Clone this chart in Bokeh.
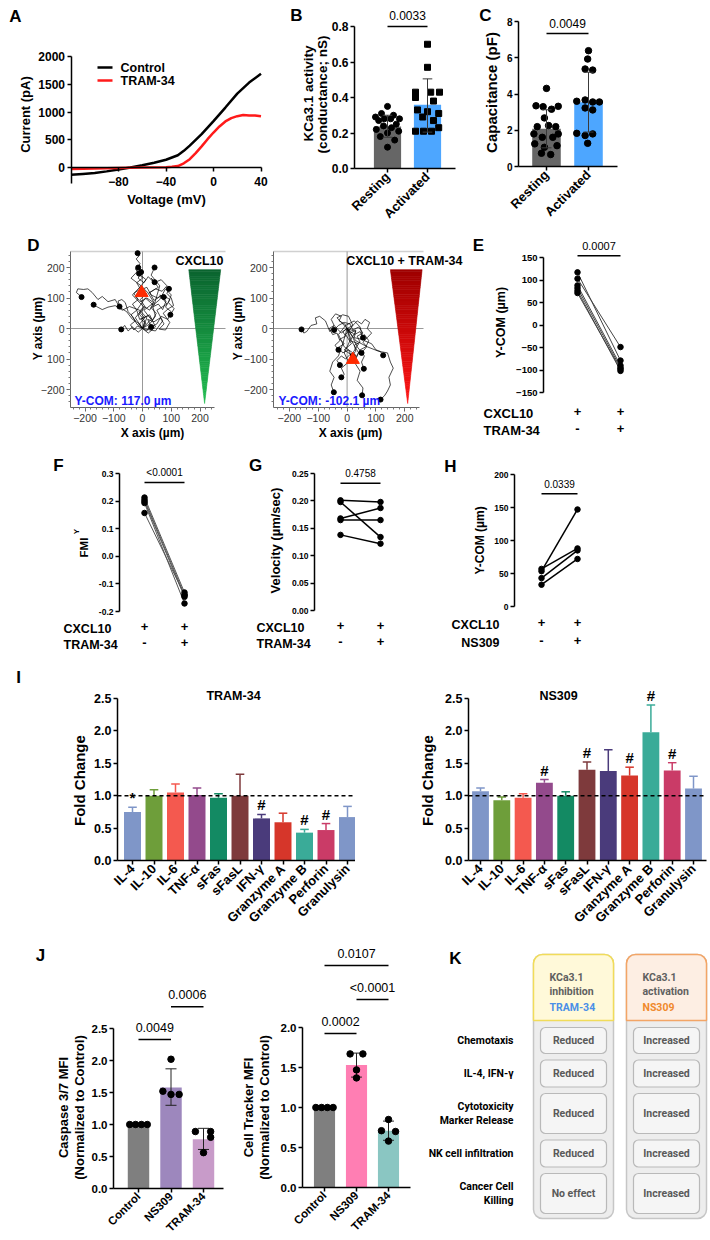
import math
from bokeh.plotting import figure
from bokeh.layouts import column, row
from bokeh.models import Range1d, FixedTicker, SingleIntervalTicker
from bokeh.embed import file_html
from bokeh.resources import INLINE
from bokeh.core.properties import value

FONT = "Liberation Sans"
KFONT = "Roboto"

# ---------------- A: whole-cell current-voltage relationship ----------------
iv_voltage_control = [-120, -110, -100, -90, -80, -70, -60, -50, -40, -30, -25, -20,
                      -10, 0, 10, 20, 30, 40]
iv_current_control = [-130, -115, -100, -70, -35, 0, 40, 85, 140, 220, 300, 395,
                      600, 835, 1080, 1330, 1530, 1690]
iv_voltage_tram = [-120, -100, -80, -60, -40, -35, -30, -25, -20, -15, -10, -5, 0, 5,
                   10, 15, 20, 25, 30, 35, 40]
iv_current_tram = [-25, -20, -8, 0, 5, 12, 25, 75, 150, 260, 380, 510, 630, 740,
                   830, 890, 925, 945, 935, 938, 922]

# ---------------- B: KCa3.1 conductance ----------------
bc_groups = ["Resting", "Activated"]
kca_mean = [0.237, 0.359]
kca_err_low = [0.176, 0.205]
kca_err_high = [0.300, 0.505]
kca_resting = [0.35, 0.31, 0.30, 0.29, 0.28, 0.28, 0.28, 0.27, 0.25, 0.24, 0.23,
               0.22, 0.21, 0.20, 0.18, 0.16, 0.12]
kca_activated = [0.70, 0.57, 0.43, 0.43, 0.43, 0.40, 0.38, 0.33, 0.32, 0.31, 0.29,
                 0.27, 0.23, 0.21, 0.21, 0.21]
kca_p = "0.0033"

# ---------------- C: membrane capacitance ----------------
cap_mean = [2.08, 3.55]
cap_err_low = [1.03, 1.90]
cap_err_high = [3.13, 5.20]
cap_resting = [4.31, 3.35, 3.32, 3.30, 3.16, 2.68, 2.26, 2.20, 2.20, 1.80, 1.80,
               1.61, 1.61, 1.25, 1.06, 1.15, 0.73, 0.66]
cap_activated = [6.39, 5.93, 5.38, 5.32, 3.67, 3.60, 3.56, 3.56, 3.23, 3.12, 1.83,
                 1.80, 1.71, 1.28]
cap_p = "0.0049"

# horizontal spread of the individual points inside each bar
kca_resting_dx = [0, -0.15, 0.15, -0.3, 0.3, -0.08, 0.08, -0.22, 0.22, -0.1, 0.1,
                  -0.28, 0.28, 0.0, -0.18, 0.18, 0.0]
kca_activated_dx = [0, 0, -0.3, 0.08, 0.3, -0.3, 0.15, -0.25, 0.0, 0.28, -0.12, 0.15,
                    0.28, -0.3, -0.1, 0.1]
cap_resting_dx = [0, -0.25, 0.28, -0.08, 0.12, -0.05, 0.05, -0.22, 0.22, -0.3, 0.28,
                  -0.1, 0.15, -0.28, -0.05, 0.25, -0.12, 0.1]
cap_activated_dx = [0, -0.02, -0.08, 0.1, -0.08, -0.28, 0.1, 0.26, -0.08, 0.1, -0.28,
                    0.1, -0.08, -0.02]

# ---------------- D: chemotaxis tracks (x, y in µm) ----------------
tracks_cxcl10 = [
    [(0, 0), (8, 25), (-12, 48), (10, 70), (-8, 95), (18, 118), (-5, 140), (12, 160),
     (-10, 178), (-25, 195), (-8, 212), (-22, 228), (-10, 240), (-17, 247)],
    [(0, 0), (-15, 18), (-35, 30), (-55, 55), (-80, 70), (-95, 95), (-120, 88),
     (-140, 105), (-155, 95), (-175, 118), (-190, 130), (-205, 128), (-225, 130),
     (-230, 118), (-220, 110), (-212, 103)],
    [(0, 0), (15, 35), (-10, 60), (-45, 72), (-70, 60), (-95, 75), (-120, 70),
     (-140, 62), (-160, 72), (-170, 78)],
    [(0, 0), (-20, 15), (-35, 40), (-50, 55), (-60, 85), (-72, 95), (-85, 90),
     (-80, 72)],
    [(0, 0), (25, 15), (45, 40), (35, 75), (60, 95), (80, 130), (100, 110), (90, 85),
     (110, 65), (97, 45)],
    [(0, 0), (-15, -12), (-35, 5), (-50, -8), (-62, 10), (-74, -3)],
    [(0, 0), (30, 30), (5, 60), (40, 85), (20, 115), (55, 135), (30, 165), (42, 152)],
    [(0, 0), (45, -8), (70, 25), (50, 60), (85, 80), (60, 110), (74, 103)],
    [(0, 0), (-25, 35), (5, 70), (-35, 110), (-5, 140), (-40, 165), (-20, 185),
     (-15, 200)],
    [(0, 0), (20, -15), (45, 5), (25, 45), (-10, 30), (-20, 60), (10, 100), (40, 75),
     (60, 140), (30, 175), (42, 200)],
    [(0, 0), (12, 18), (-6, 30), (20, 42), (35, 28), (48, 50), (30, 68), (55, 80),
     (70, 62), (82, 90), (60, 105), (40, 92), (25, 118), (45, 130), (68, 122),
     (85, 140), (65, 160), (40, 150), (20, 170), (5, 150), (-15, 165), (-5, 185)],
    [(0, 0), (-10, 15), (8, 35), (-12, 55), (5, 72), (25, 60), (38, 85), (15, 100),
     (-8, 88), (-25, 105), (-10, 125), (15, 135), (30, 110), (52, 100), (70, 110),
     (95, 95), (80, 70), (100, 55), (88, 30), (65, 40), (50, 15), (30, 5)],
    [(0, 0), (15, -8), (28, 10), (18, 30), (40, 22), (62, 35), (75, 15), (58, -2),
     (80, -5), (95, 20), (72, 50), (90, 65), (108, 75), (100, 100), (85, 115),
     (92, 130)],
    [(0, 0), (-18, 8), (-30, -5), (-42, 12), (-25, 25), (-40, 45), (-20, 60), (-35, 80),
     (-15, 95), (-30, 115), (-8, 130), (-20, 150), (0, 165), (-12, 180)],
]
tracks_tram34 = [
    [(0, 0), (-20, -15), (-45, 10), (-60, -10), (-75, 25), (-95, 40), (-110, 35),
     (-105, 15), (-125, 10), (-140, -10), (-150, -15), (-158, -3)],
    [(0, 0), (25, -20), (45, -10), (60, -40), (85, -50), (100, -70), (115, -75),
     (125, -88)],
    [(0, 0), (30, -40), (70, -60), (110, -75), (140, -80), (150, -110), (160, -130),
     (145, -160), (150, -185), (140, -205), (130, -220), (116, -233)],
    [(0, 0), (15, -40), (40, -80), (25, -110), (45, -140), (35, -170), (55, -195),
     (52, -219)],
    [(0, 0), (-15, -50), (-30, -90), (-50, -110), (-60, -140), (-45, -160),
     (-55, -185), (-46, -209)],
    [(0, 0), (10, -40), (-10, -80), (5, -110), (-20, -130), (-10, -150), (-20, -160)],
    [(0, 0), (20, -30), (35, -60), (60, -90), (50, -110), (58, -132)],
    [(0, 0), (-20, 20), (-35, 35), (-15, 45), (5, 40), (20, 10), (-5, -20), (15, -50),
     (-10, -70), (20, -90)],
    [(0, 0), (30, -10), (10, -40), (40, -50), (20, -80), (-10, -60), (-30, -20),
     (-5, 10), (25, 25), (45, 5), (55, -30)],
    [(0, 0), (-15, -10), (-5, -25), (-25, -35), (-10, -50), (-30, -62), (-15, -80),
     (5, -70), (15, -90), (30, -75), (25, -55), (45, -45), (35, -25), (55, -15),
     (40, 5), (20, -5), (10, 15), (-10, 20), (-30, 10), (-45, -5)],
    [(0, 0), (12, -15), (30, -5), (25, -30), (48, -35), (60, -20), (75, -40), (65, -60),
     (45, -70), (30, -95), (10, -85), (-5, -100), (-20, -90), (-35, -105), (-25, -120)],
    [(0, 0), (-8, 15), (-28, 25), (-20, 40), (-40, 48), (-55, 30), (-45, 10), (-62, 0),
     (-50, -20), (-35, -15), (-25, -40), (-42, -55), (-30, -70)],
    [(0, 0), (20, 10), (35, 25), (50, 15), (62, 30), (78, 20), (70, 0), (85, -15),
     (70, -30), (55, -45), (68, -60), (50, -80)],
]
ycom_cxcl10 = 117.0
xcom_cxcl10 = -3.0
ycom_tram34 = -102.1
xcom_tram34 = 20.0

# ---------------- E-H: paired experiments ----------------
e_before = [117, 103, 88, 82, 76, 71]
e_after = [-79, -49, -90, -95, -102, -98]
e_p = "0.0007"
f_before = [0.213, 0.205, 0.199, 0.193, 0.157]
f_after = [-0.131, -0.140, -0.147, -0.171, -0.140]
f_p = "<0.0001"
g_before = [0.201, 0.198, 0.168, 0.165, 0.138]
g_after = [0.198, 0.134, 0.187, 0.165, 0.122]
g_p = "0.4758"
h_before = [53.5, 57, 43, 33]
h_after = [147, 88, 85, 72]
h_p = "0.0339"

# ---------------- I: cytokine release ----------------
cytokines = ["IL-4", "IL-10", "IL-6", "TNF-α", "sFas", "sFasL", "IFN-γ",
             "Granzyme A", "Granzyme B", "Perforin", "Granulysin"]
cytokine_colors = ["#7f96c8", "#6e9e3a", "#f4594f", "#934a8c", "#138a63", "#7e3a3c",
                   "#4a3b7b", "#d6362a", "#3aab98", "#ca3b67", "#7f96c8"]
tram_fold = [0.75, 1.00, 1.05, 1.01, 0.97, 1.00, 0.65, 0.59, 0.43, 0.47, 0.67]
tram_fold_top = [0.82, 1.09, 1.18, 1.12, 1.03, 1.33, 0.71, 0.73, 0.48, 0.57, 0.835]
tram_marks = ["*", "", "", "", "", "", "#", "", "#", "#", ""]
ns_fold = [1.07, 0.93, 0.97, 1.20, 1.00, 1.40, 1.38, 1.31, 1.98, 1.39, 1.11]
ns_fold_top = [1.12, 0.98, 1.03, 1.25, 1.06, 1.52, 1.71, 1.44, 2.40, 1.51, 1.30]
ns_marks = ["", "", "", "#", "", "#", "", "#", "#", "#", ""]

# ---------------- J: killing assays ----------------
j_groups = ["Control", "NS309", "TRAM-34"]
casp_mean = [1.0, 1.58, 0.77]
casp_err_low = [1.0, 1.30, 0.61]
casp_err_high = [1.0, 1.87, 0.94]
casp_points = [[1.0, 1.0, 1.0, 1.0], [2.02, 1.52, 1.47, 1.47], [0.89, 0.89, 0.80, 0.56]]
casp_dx = [[-0.27, -0.09, 0.09, 0.27], [0.0, -0.25, 0.0, 0.25], [-0.25, 0.22, 0.22, 0.0]]
casp_colors = ["#7f7f7f", "#9d87bd", "#c89bc9"]
track_mean = [1.0, 1.53, 0.71]
track_err_low = [1.0, 1.38, 0.59]
track_err_high = [1.0, 1.68, 0.83]
track_points = [[1.0, 1.0, 1.0, 1.0], [1.67, 1.67, 1.47, 1.37], [0.85, 0.71, 0.70, 0.58]]
track_dx = [[-0.27, -0.09, 0.09, 0.27], [-0.2, 0.2, 0.0, 0.0], [0.0, -0.22, 0.22, 0.0]]
track_colors = ["#7f7f7f", "#ff7eb3", "#8ac6c2"]
casp_brackets = [(0, 1, 2.33, "0.0049"), (1, 2, 2.84, "0.0006")]
track_brackets = [(0, 1, 1.925, "0.0002"), (1, 2, 2.35, "<0.0001"), (0, 2, 2.775, "0.0107")]

# ---------------- K: summary table ----------------
k_rows = ["Chemotaxis", "IL-4, IFN-γ", "Cytotoxicity\nMarker Release",
          "NK cell infiltration", "Cancer Cell\nKilling"]
k_inhibition = ["Reduced", "Reduced", "Reduced", "Reduced", "No effect"]
k_activation = ["Increased", "Increased", "Increased", "Increased", "Increased"]
k_headers = [("KCa3.1", "inhibition", "TRAM-34"), ("KCa3.1", "activation", "NS309")]


# ============================================================================
def style_axis(ax, size, bold=True, color="black", width=1.5, tick_out=4):
    ax.axis_line_width = width
    ax.axis_line_color = color
    ax.major_tick_line_width = width
    ax.major_tick_line_color = color
    ax.major_tick_out = tick_out
    ax.major_tick_in = 0
    ax.minor_tick_line_color = None
    ax.major_label_text_font = FONT
    ax.major_label_text_font_size = size
    ax.major_label_text_font_style = "bold" if bold else "normal"
    ax.major_label_text_color = color
    ax.major_label_standoff = 2


class Panel:
    """A figure whose frame fills its box; data units are calibrated to page pixels,
    so axes are pinned with fixed_location and every text stays inside the frame."""

    def __init__(self, origin, size, xcal, ycal, xaxis=True, yaxis=True):
        x0, y0 = origin
        w, h = size
        self.px, self.dx, self.sx = xcal
        self.py, self.dy, self.sy = ycal
        self.p = figure(width=w, height=h,
                        x_range=Range1d(self.xd(x0), self.xd(x0 + w)),
                        y_range=Range1d(self.yd(y0 + h), self.yd(y0)),
                        x_axis_location="below" if xaxis else None,
                        y_axis_location="left" if yaxis else None,
                        output_backend="svg", toolbar_location=None,
                        min_border_left=0, min_border_right=0,
                        min_border_top=0, min_border_bottom=0)
        p = self.p
        try:
            p.frame_align = False
        except Exception:
            pass
        p.title.visible = False
        p.outline_line_color = None
        p.grid.visible = False
        p.background_fill_color = None
        p.border_fill_color = None

    def xd(self, X):
        return self.dx + (X - self.px) / self.sx

    def yd(self, Y):
        return self.dy + (self.py - Y) / self.sy

    def pin_axes(self, x_at=None, x_bounds=None, y_at=None, y_bounds=None):
        if x_at is not None:
            self.p.xaxis[0].fixed_location = x_at
            self.p.xaxis[0].bounds = x_bounds
        if y_at is not None:
            self.p.yaxis[0].fixed_location = y_at
            self.p.yaxis[0].bounds = y_bounds

    def t(self, X, Y, txt, size="12px", bold=True, color="black", align="center",
          baseline="middle", angle=0.0, font=FONT, line_height=1.2):
        self.p.text(x=[self.xd(X)], y=[self.yd(Y)], text=[txt], text_font=value(font),
                    text_font_size=size, text_font_style="bold" if bold else "normal",
                    text_color=color, text_align=align, text_baseline=baseline,
                    angle=angle, text_line_height=line_height)

    def bracket(self, x0, x1, y, label, gap_px=11, size="12px"):
        self.p.segment(x0=[x0], y0=[y], x1=[x1], y1=[y], line_color="black",
                       line_width=1.5)
        ylab = y + gap_px / abs(self.sy)
        self.p.text(x=[(x0 + x1) / 2], y=[ylab], text=[label], text_font=value(FONT),
                    text_font_size=size, text_color="black", text_align="center",
                    text_baseline="middle")


ROT = math.pi / 2

# ---------------- A ----------------
A = Panel((0, 0), (275, 232), (213, 0, 1.1875), (167, 0, 0.0555))
pa = A.p
style_axis(pa.xaxis[0], "12px")
style_axis(pa.yaxis[0], "12px")
A.pin_axes(x_at=0, x_bounds=(-120, 40), y_at=-120, y_bounds=(-288, 2000))
pa.xaxis[0].ticker = FixedTicker(ticks=[-80, -40, 0, 40])
pa.xaxis[0].major_label_standoff = 5
pa.yaxis[0].ticker = FixedTicker(ticks=[0, 500, 1000, 1500, 2000])
pa.line(iv_voltage_control, iv_current_control, line_color="black", line_width=2.5)
pa.line(iv_voltage_tram, iv_current_tram, line_color="#ff1a1a", line_width=2.5)
# legend samples
pa.segment(x0=[A.xd(97)] * 2, y0=[A.yd(67), A.yd(80)], x1=[A.xd(112)] * 2,
           y1=[A.yd(67), A.yd(80)], line_color=["black", "#ff1a1a"], line_width=2.5)
A.t(120, 67, "Control", size="12.5px", align="left")
A.t(120, 80, "TRAM-34", size="12.5px", align="left")
A.t(15, 16, "A", size="17px")
A.t(25, 114, "Current (pA)", size="13px", angle=ROT)
A.t(166, 199, "Voltage (mV)", size="13px")


# ---------------- B & C ----------------
def bar_dot_panel(P, y_axis_x, x_end, means, lo, hi, pts_a, dx_a, pts_b, dx_b, marker_b,
                  yticks, fmt_over, tick_size, dot):
    p = P.p
    style_axis(p.xaxis[0], "13px")
    style_axis(p.yaxis[0], tick_size)
    P.pin_axes(x_at=0, x_bounds=(y_axis_x, x_end), y_at=y_axis_x,
               y_bounds=(yticks[0], yticks[-1]))
    p.xaxis[0].ticker = FixedTicker(ticks=[1, 2])
    p.xaxis[0].major_label_overrides = {1: bc_groups[0], 2: bc_groups[1]}
    p.xaxis[0].major_label_orientation = math.pi / 4
    p.yaxis[0].ticker = FixedTicker(ticks=yticks)
    if fmt_over:
        p.yaxis[0].major_label_overrides = fmt_over
    p.vbar(x=[1, 2], top=means, width=0.68, fill_color=["#666666", "#4da6ff"],
           line_color=None)
    p.scatter([1 + d for d in dx_a], pts_a, size=dot, marker="circle", color="black")
    p.scatter([2 + d for d in dx_b], pts_b, size=dot, marker=marker_b, color="black")
    p.segment(x0=[1, 2], y0=lo, x1=[1, 2], y1=hi, line_color="#3a3a3a", line_width=1)
    for ys in (lo, hi):
        p.segment(x0=[0.88, 1.88], y0=ys, x1=[1.12, 2.12], y1=ys, line_color="#3a3a3a",
                  line_width=1)


B = Panel((275, 0), (195, 232), (387, 1, 40), (168, 0, 177.5))
bar_dot_panel(B, B.xd(354), B.xd(455), kca_mean, kca_err_low, kca_err_high, kca_resting,
              kca_resting_dx, kca_activated, kca_activated_dx, "square",
              [0, 0.2, 0.4, 0.6, 0.8],
              {0: "0.0", 0.2: "0.2", 0.4: "0.4", 0.6: "0.6", 0.8: "0.8"}, "12px", 6)
B.bracket(1, 2, 0.8, kca_p, gap_px=11)
B.t(296, 15, "B", size="17px")
B.t(308, 93, "KCa3.1 activity", size="13.5px", angle=ROT)
B.t(322, 94, "(conductance; nS)", size="13.5px", angle=ROT)

C = Panel((470, 0), (240, 232), (546, 1, 42), (166, 0, 18.125))
bar_dot_panel(C, C.xd(518), C.xd(617), cap_mean, cap_err_low, cap_err_high, cap_resting,
              cap_resting_dx, cap_activated, cap_activated_dx, "circle", [0, 2, 4, 6, 8],
              None, "10px", 6.5)
C.bracket(1, 2, 7.34, cap_p, gap_px=10)
C.t(485, 15, "C", size="17px")
C.t(491, 92, "Capacitance (pF)", size="15px", angle=ROT)


# ---------------- D ----------------
def mix(c0, c1, t):
    a = [int(c0[i:i + 2], 16) for i in (1, 3, 5)]
    b = [int(c1[i:i + 2], 16) for i in (1, 3, 5)]
    return "#%02x%02x%02x" % tuple(round(a[k] + (b[k] - a[k]) * t) for k in range(3))


def gradient_wedge(p, top_y, left_x, right_x, apex, c_top, c_bottom, n=60):
    ax, ay = apex
    xs, ys, cols = [], [], []
    for k in range(n):
        t0, t1 = k / n, (k + 1) / n
        ya, yb = top_y + (ay - top_y) * t0, top_y + (ay - top_y) * t1
        la, lb = left_x + (ax - left_x) * t0, left_x + (ax - left_x) * t1
        ra, rb = right_x + (ax - right_x) * t0, right_x + (ax - right_x) * t1
        xs.append([la, ra, rb, lb])
        ys.append([ya, ya, yb, yb])
        cols.append(mix(c_top, c_bottom, (t0 + t1) / 2))
    p.patches(xs, ys, fill_color=cols, line_color=cols, line_width=0.6)


def track_panel(P, frame, tracks, com, wedge, title, title_x, ycom_label, ycom_x,
                ylab_x, xlab_x, overrides=None):
    p = P.p
    fl, ft, fr, fb = frame
    x_lo, x_hi = P.xd(fl), P.xd(fr)
    y_lo, y_hi = P.yd(fb), P.yd(ft)
    for ax in (p.xaxis[0], p.yaxis[0]):
        style_axis(ax, "10.5px", bold=False, color="#666666", width=1, tick_out=4)
        ax.major_label_text_color = "#333333"
        ax.minor_tick_line_color = "#777777"
        ax.minor_tick_out = 2
        ax.minor_tick_in = 0
        ax.ticker = SingleIntervalTicker(interval=100, num_minor_ticks=5)
    P.pin_axes(x_at=y_lo, x_bounds=(x_lo, 250), y_at=x_lo, y_bounds=(y_lo, y_hi))
    if overrides:
        p.yaxis[0].major_label_overrides = overrides
    # light upper border and the origin cross
    p.segment(x0=[x_lo], y0=[y_hi], x1=[x_hi], y1=[y_hi], line_color="#d0d0d0",
              line_width=1.5)
    p.segment(x0=[x_lo, 0], y0=[0, y_lo], x1=[x_hi, 0], y1=[0, y_hi],
              line_color="#999999", line_width=1)
    gradient_wedge(p, *wedge)
    p.multi_line([[q[0] for q in t] for t in tracks], [[q[1] for q in t] for t in tracks],
                 line_color="black", line_width=0.7)
    p.scatter([t[-1][0] for t in tracks], [t[-1][1] for t in tracks], size=5,
              color="black")
    p.scatter([com[0]], [com[1]], marker="triangle", size=13, color="#ff2a00")
    P.t(title_x, 260, title, size="12.5px", align="right")
    P.t(ycom_x, 400, ycom_label, size="12px", color="#1a1aff", align="left")
    P.t(ylab_x, 328, "Y axis (µm)", size="12px", angle=ROT)
    P.t(xlab_x, 432, "X axis (µm)", size="12px")


D1 = Panel((0, 232), (228, 213), (142, 0, 0.2875), (328, 0, 0.305))
track_panel(D1, (70, 251, 225, 407), tracks_cxcl10, (xcom_cxcl10, ycom_cxcl10),
            (193, 161, 272, (216, -246), "#0b6430", "#21bd50"), "CXCL10", 223,
            "Y-COM: %.1f µm" % ycom_cxcl10, 74, 37, 152, overrides={-100: "100"})
D1.t(33, 245, "D", size="17px")

D2 = Panel((228, 232), (242, 213), (346.6, 0, 0.2885), (328, 0, 0.305))
track_panel(D2, (273, 251, 423, 407), tracks_tram34, (xcom_tram34, ycom_tram34),
            (193, 150, 260, (210, -246), "#9e0000", "#ff1414"), "CXCL10 + TRAM-34", 462,
            "Y-COM: %.1f µm" % ycom_tram34, 278, 237, 350)


# ---------------- E-H ----------------
def paired_panel(P, y_axis_page_x, before, after, yticks, labels, tick_size, lw, lcolor):
    p = P.p
    style_axis(p.yaxis[0], tick_size)
    P.pin_axes(y_at=P.xd(y_axis_page_x), y_bounds=(yticks[0], yticks[-1]))
    p.yaxis[0].ticker = FixedTicker(ticks=yticks)
    if labels:
        p.yaxis[0].major_label_overrides = labels
    p.multi_line([[1, 2] for _ in before], [[b, a] for b, a in zip(before, after)],
                 line_color=lcolor, line_width=lw)
    p.scatter([1] * len(before), before, size=5.5, color="black")
    p.scatter([2] * len(after), after, size=5.5, color="black")


def condition_rows(P, names, name_x, ys, signs, size="13px", align="left"):
    for name, y, sg in zip(names, ys, signs):
        P.t(name_x, y, name, size=size, align=align)
        for cx, s in zip([1, 2], sg):
            P.p.text(x=[cx], y=[P.yd(y - 2)], text=[s], text_font=value(FONT),
                     text_font_size="13px", text_font_style="bold",
                     text_align="center", text_baseline="middle")


E = Panel((470, 232), (240, 213), (577, 1, 43), (324.5, 0, 0.45), xaxis=False)
paired_panel(E, 543, e_before, e_after, [-150, -100, -50, 0, 50, 100, 150], None, "9.5px",
             1, "#444444")
E.bracket(1, 2, 154, e_p, gap_px=10, size="11px")
E.t(478, 245, "E", size="17px")
E.t(500, 322, "Y-COM (µm)", size="12.5px", angle=ROT)
condition_rows(E, ["CXCL10", "TRAM-34"], 483, [413, 430], [("+", "+"), ("-", "+")])

F = Panel((0, 445), (245, 220), (144, 1, 40), (555.8, 0, 276), xaxis=False)
paired_panel(F, 119, f_before, f_after, [-0.2, -0.1, 0.0, 0.1, 0.2, 0.3],
             {-0.2: "-0.2", -0.1: "-0.1", 0.0: "0.0", 0.1: "0.1", 0.2: "0.2", 0.3: "0.3"},
             "8.5px", 1, "#555555")
F.bracket(1, 2, 0.267, f_p, gap_px=10, size="10px")
F.t(58, 465, "F", size="17px")
F.t(83, 547, "FMI", size="11.5px", angle=ROT)
F.t(76, 531, "Y", size="8px", angle=ROT)
condition_rows(F, ["CXCL10", "TRAM-34"], 63, [628, 644], [("+", "+"), ("-", "+")],
               size="12.5px")

G = Panel((245, 445), (195, 220), (340, 1, 40), (610, 0, 548), xaxis=False)
paired_panel(G, 314, g_before, g_after, [0, 0.05, 0.10, 0.15, 0.20, 0.25],
             {0: "0.00", 0.05: "0.05", 0.10: "0.10", 0.15: "0.15", 0.20: "0.20",
              0.25: "0.25"}, "8.5px", 1.5, "black")
G.bracket(1, 2, 0.232, g_p, gap_px=10, size="10px")
G.t(255, 465, "G", size="17px")
G.t(275, 540, "Velocity (µm/sec)", size="13px", angle=ROT)
condition_rows(G, ["CXCL10", "TRAM-34"], 256, [627, 643], [("+", "+"), ("-", "+")],
               size="12.5px")

H = Panel((440, 445), (270, 220), (541, 1, 36), (606, 0, 0.66), xaxis=False)
paired_panel(H, 514, h_before, h_after, [0, 50, 100, 150, 200], None, "8.5px", 1.5,
             "black")
H.bracket(1, 2, 171, h_p, gap_px=10, size="10px")
H.t(450, 466, "H", size="17px")
H.t(479, 540, "Y-COM (µm)", size="12px", angle=ROT)
condition_rows(H, ["CXCL10", "NS309"], 499, [624, 642], [("+", "+"), ("-", "+")],
               size="12.5px", align="right")


# ---------------- I ----------------
def cytokine_panel(P, axis_x, end_x, fold, top, marks, title, title_x, ylab_x):
    p = P.p
    style_axis(p.xaxis[0], "13px")
    style_axis(p.yaxis[0], "12.5px")
    x_lo, x_hi = P.xd(axis_x), P.xd(end_x)
    P.pin_axes(x_at=0, x_bounds=(x_lo, x_hi), y_at=x_lo, y_bounds=(0, 2.5))
    idx = list(range(len(cytokines)))
    p.xaxis[0].ticker = FixedTicker(ticks=idx)
    p.xaxis[0].major_label_overrides = {i: n for i, n in enumerate(cytokines)}
    p.xaxis[0].major_label_orientation = math.pi / 4
    p.yaxis[0].ticker = FixedTicker(ticks=[0, 0.5, 1.0, 1.5, 2.0, 2.5])
    p.yaxis[0].major_label_overrides = {0: "0.0", 0.5: "0.5", 1.0: "1.0", 1.5: "1.5",
                                        2.0: "2.0", 2.5: "2.5"}
    p.vbar(x=idx, top=fold, width=0.79, fill_color=cytokine_colors, line_color=None)
    p.segment(x0=idx, y0=fold, x1=idx, y1=top, line_color=cytokine_colors, line_width=1.5)
    p.segment(x0=[i - 0.2 for i in idx], y0=top, x1=[i + 0.2 for i in idx], y1=top,
              line_color=cytokine_colors, line_width=1.5)
    p.segment(x0=[x_lo], y0=[1.0], x1=[x_hi], y1=[1.0], line_color="black",
              line_width=1.5, line_dash="4 3")
    mi = [i for i in idx if marks[i]]
    p.text(x=mi, y=[top[i] for i in mi], text=[marks[i] for i in mi], y_offset=-1,
           text_font=value(FONT), text_font_size="15px", text_font_style="bold",
           text_align="center", text_baseline="bottom", text_color="black")
    P.t(title_x, 695, title, size="12.5px")
    P.t(ylab_x, 778, "Fold  Change", size="15px", angle=ROT)


I1 = Panel((0, 665), (355, 275), (132, 0, 21.5), (860, 0, 64.8))
cytokine_panel(I1, 117, 356, tram_fold, tram_fold_top, tram_marks, "TRAM-34", 233, 79)
I1.t(18, 677, "I", size="17px")
I2 = Panel((355, 665), (355, 275), (480, 0, 21.3), (860, 0, 64.8))
cytokine_panel(I2, 468, 706, ns_fold, ns_fold_top, ns_marks, "NS309", 558, 427)


# ---------------- J ----------------
def killing_panel(P, axis_x, end_x, means, lo, hi, pts, dxs, colors, yticks, brackets,
                  lab1, lab2, lab_x):
    p = P.p
    style_axis(p.xaxis[0], "11.5px")
    style_axis(p.yaxis[0], "11.5px")
    x_lo, x_hi = P.xd(axis_x), P.xd(end_x)
    P.pin_axes(x_at=0, x_bounds=(x_lo, x_hi), y_at=x_lo, y_bounds=(yticks[0], yticks[-1]))
    p.xaxis[0].ticker = FixedTicker(ticks=[0, 1, 2])
    p.xaxis[0].major_label_overrides = {i: g for i, g in enumerate(j_groups)}
    p.xaxis[0].major_label_orientation = math.pi / 4
    p.yaxis[0].ticker = FixedTicker(ticks=yticks)
    p.yaxis[0].major_label_overrides = {t: "%.1f" % t for t in yticks}
    p.vbar(x=[0, 1, 2], top=means, width=0.66, fill_color=colors, line_color=None)
    p.segment(x0=[1, 2], y0=lo[1:], x1=[1, 2], y1=hi[1:], line_color="#222222",
              line_width=1)
    for ys in (lo[1:], hi[1:]):
        p.segment(x0=[0.83, 1.83], y0=ys, x1=[1.17, 2.17], y1=ys, line_color="#222222",
                  line_width=1)
    for g in range(3):
        p.scatter([g + d for d in dxs[g]], pts[g], size=6.5, color="black")
    for a, b, y, txt in brackets:
        P.bracket(a, b, y, txt, gap_px=12, size="12.5px")
    P.t(lab_x, 1107, lab1, size="13px", angle=ROT)
    P.t(lab_x + 16, 1107, lab2, size="13px", angle=ROT)


J1 = Panel((0, 940), (236, 300), (138, 0, 32.5), (1188, 0, 64))
killing_panel(J1, 113, 223, casp_mean, casp_err_low, casp_err_high, casp_points,
              casp_dx, casp_colors, [0, 0.5, 1.0, 1.5, 2.0, 2.5], casp_brackets,
              "Caspase 3/7 MFI", "(Normalized to Control)", 63)
J1.t(40, 955, "J", size="17px")

J2 = Panel((236, 940), (180, 300), (324, 0, 32), (1187, 0, 80))
killing_panel(J2, 302, 410, track_mean, track_err_low, track_err_high, track_points,
              track_dx, track_colors, [0, 0.5, 1.0, 1.5, 2.0], track_brackets,
              "Cell Tracker MFI", "(Normalized to Control)", 248)


# ---------------- K ----------------
K = Panel((416, 940), (294, 300), (0, 0, 1), (0, 0, -1), xaxis=False, yaxis=False)
pk = K.p
col_left = [533, 626]
col_w = 80
head_top, head_bottom, body_bottom = 954, 1020, 1218
head_fill = ["#fff9d9", "#fdeee3"]
head_line = ["#f1dc5a", "#f3a566"]
accent = ["#4a8fe7", "#f0892d"]
row_heights = [26, 27, 40, 27, 40]
row_gap = 6.5
first_row_top = 1027

row_tops = []
cursor = first_row_top
for hgt in row_heights:
    row_tops.append(cursor)
    cursor += hgt + row_gap
row_mid = [rt + hgt / 2 for rt, hgt in zip(row_tops, row_heights)]

for c in range(2):
    L = col_left[c]
    pk.quad(left=[L], right=[L + col_w], top=[head_top], bottom=[body_bottom],
            fill_color="#ededed", line_color="#c6c6c6", line_width=1.5, border_radius=9)
    pk.quad(left=[L], right=[L + col_w], top=[head_top], bottom=[head_bottom],
            fill_color=head_fill[c], line_color=head_line[c], line_width=1.5,
            border_radius=(9, 9, 0, 0))
    cells = k_inhibition if c == 0 else k_activation
    pk.quad(left=[L + 7] * 5, right=[L + col_w - 7] * 5, top=row_tops,
            bottom=[rt + hgt for rt, hgt in zip(row_tops, row_heights)],
            fill_color="#f5f5f5", line_color="#b9b9b9", line_width=1.2, border_radius=5)
    pk.text(x=[L + col_w / 2] * 5, y=row_mid, text=cells, text_font=value(KFONT),
            text_font_size="10.5px", text_font_style="bold", text_color="#5a5a5a",
            text_align="center", text_baseline="middle")
    hx = L + 16
    for j, (txt, col) in enumerate(zip(k_headers[c], ["#606060", "#606060", accent[c]])):
        K.t(hx, 977 + 13.5 * j + (3 if j == 2 else 0), txt, size="10.5px", color=col,
            align="left", font=KFONT)

pk.text(x=[513] * 5, y=row_mid, text=k_rows, text_font=value(KFONT),
        text_font_size="10.5px", text_font_style="bold", text_color="black",
        text_align="right", text_baseline="middle", text_line_height=1.05)
K.t(455, 958, "K", size="17px")

layout = column(
    row(A.p, B.p, C.p),
    row(D1.p, D2.p, E.p),
    row(F.p, G.p, H.p),
    row(I1.p, I2.p),
    row(J1.p, J2.p, K.p),
)

open("out.html", "w").write(file_html(layout, INLINE))
